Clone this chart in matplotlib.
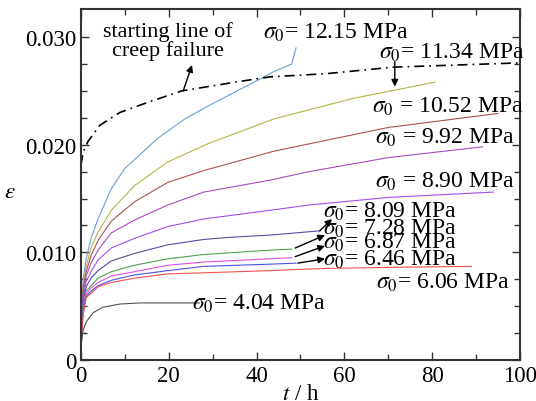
import matplotlib
matplotlib.use('Agg')
import matplotlib.pyplot as plt

plt.rcParams['font.family'] = ['Liberation Serif', 'DejaVu Serif']
plt.rcParams['mathtext.fontset'] = 'stix'

# Creep curves (t in h, strain)
t_1215 = [0, 0.5, 1.2, 2.3, 3.9, 6.9, 10, 12.2, 17.5, 23.7, 29, 40.8, 44, 48, 49]
e_1215 = [0.0025, 0.0075, 0.0094, 0.0113, 0.0131, 0.0159, 0.0178, 0.0186, 0.0206, 0.0224,
          0.0236, 0.0261, 0.0268, 0.0275, 0.0290]

t_1134 = [0, 0.5, 1.2, 2.3, 3.9, 6.9, 12.2, 19.8, 29, 44, 62, 80.6]
e_1134 = [0.0024, 0.0070, 0.0087, 0.0104, 0.0119, 0.0139, 0.0162, 0.0184, 0.0201, 0.0224,
          0.0243, 0.0258]

t_1052 = [0, 0.5, 1.2, 2.3, 3.9, 6.9, 12.2, 19.8, 28, 44, 70, 95]
e_1052 = [0.0023, 0.0066, 0.0082, 0.0097, 0.0111, 0.0129, 0.0147, 0.0165, 0.0176, 0.0194,
          0.0216, 0.0229]

t_992 = [0, 0.5, 1.2, 2.3, 3.9, 6.9, 12.2, 19.8, 28, 43, 52, 70, 91.5]
e_992 = [0.0022, 0.0062, 0.0078, 0.0090, 0.0102, 0.0118, 0.0130, 0.0144, 0.0156, 0.0167,
         0.0175, 0.0188, 0.0198]

t_890 = [0, 0.5, 1.2, 2.3, 3.9, 6.9, 12.2, 19.8, 28, 43, 52, 70, 94]
e_890 = [0.0021, 0.0058, 0.0073, 0.0082, 0.0093, 0.0104, 0.0113, 0.0124, 0.0131, 0.0139,
         0.0144, 0.0151, 0.0156]

t_809 = [0, 0.5, 1.2, 2.3, 3.9, 6.9, 12.2, 19.8, 28, 34, 43, 54.5]
e_809 = [0.0020, 0.0055, 0.0068, 0.0076, 0.0083, 0.0092, 0.0099, 0.0107, 0.0112, 0.0114,
         0.0116, 0.0120]

t_728 = [0, 0.5, 1.2, 2.3, 3.9, 6.9, 12.2, 19.8, 28, 43, 48]
e_728 = [0.0019, 0.0050, 0.0064, 0.0069, 0.0076, 0.0082, 0.0088, 0.0094, 0.0098, 0.0102, 0.0103]

t_687 = [0, 0.5, 1.2, 2.3, 3.9, 6.9, 12.2, 19.8, 28, 43, 48]
e_687 = [0.0018, 0.0047, 0.0061, 0.0067, 0.0072, 0.0078, 0.0082, 0.0088, 0.0091, 0.0094, 0.0095]

t_646 = [0, 0.5, 1.2, 2.3, 3.9, 6.9, 12.2, 19.8, 28, 43, 49]
e_646 = [0.0017, 0.0045, 0.0059, 0.0064, 0.0069, 0.0074, 0.0079, 0.0083, 0.0087, 0.0089, 0.0090]

t_606 = [0, 0.5, 1.2, 2.3, 3.9, 6.9, 12.2, 19.8, 28, 43, 55, 70, 89]
e_606 = [0.0016, 0.0042, 0.0058, 0.0062, 0.0068, 0.0072, 0.0076, 0.0080, 0.0081, 0.0083,
         0.0085, 0.0086, 0.0087]

t_404 = [0, 0.5, 1.3, 2.8, 5, 8.9, 13.4, 27]
e_404 = [0.0012, 0.0028, 0.0036, 0.0044, 0.0049, 0.0052, 0.0053, 0.0053]

# Starting line of creep failure
t_fail = [0, 0.5, 1.6, 4.3, 8.9, 15.7, 23, 35, 43, 56, 71, 100]
e_fail = [0.0181, 0.0193, 0.0203, 0.0218, 0.0230, 0.0240, 0.0250, 0.0258, 0.0263, 0.0266,
          0.0272, 0.0276]

curves = [
    (t_1215, e_1215, '#6a9fd4'),
    (t_1134, e_1134, '#b5b545'),
    (t_1052, e_1052, '#b05050'),
    (t_992, e_992, '#a64dbf'),
    (t_890, e_890, '#a050f0'),
    (t_809, e_809, '#5050a0'),
    (t_728, e_728, '#50a050'),
    (t_687, e_687, '#e050e0'),
    (t_646, e_646, '#5050e0'),
    (t_606, e_606, '#f05050'),
    (t_404, e_404, '#505050'),
]

# Labels: text, x, y
labels = [
    (r'$\sigma_0$= 12.15 MPa', 58.1, 0.0305),
    (r'$\sigma_0$= 11.34 MPa', 84.5, 0.0286),
    (r'$\sigma_0$ = 10.52 MPa', 83.6, 0.0236),
    (r'$\sigma_0$ = 9.92 MPa', 82.9, 0.0207),
    (r'$\sigma_0$ = 8.90 MPa', 82.9, 0.0166),
    (r'$\sigma_0$= 8.09 MPa', 70.4, 0.0139),
    (r'$\sigma_0$= 7.28 MPa', 70.4, 0.0123),
    (r'$\sigma_0$= 6.87 MPa', 70.4, 0.0110),
    (r'$\sigma_0$= 6.46 MPa', 70.4, 0.0094),
    (r'$\sigma_0$= 6.06 MPa', 82.5, 0.0073),
    (r'$\sigma_0$= 4.04 MPa', 40.5, 0.0053),
]

# Arrows: tail -> head
arrows = [
    ((54.4, 0.0120), (57.2, 0.0131)),
    ((48.8, 0.0104), (55.6, 0.0116)),
    ((48.8, 0.0096), (55.6, 0.0106)),
    ((49.4, 0.0090), (55.6, 0.0094)),
    ((71.5, 0.0277), (71.5, 0.0254)),
    ((23.3, 0.0250), (25.3, 0.0274)),
]

fig, ax = plt.subplots(figsize=(5.36, 4.02), dpi=100)
fig.subplots_adjust(left=0.151, right=0.970, bottom=0.102, top=0.975)

for t, e, c in curves:
    ax.plot(t, e, color=c, lw=0.8)

ax.plot(t_fail, e_fail, color='black', lw=1.2, linestyle=(0, (6, 3, 1, 3)))

for txt, x, y in labels:
    ax.text(x, y, txt, fontsize=17, ha='center', va='center')

ax.text(19.8, 0.0297, 'starting line of\ncreep failure', fontsize=16,
        ha='center', va='center', linespacing=0.95)

for tail, head in arrows:
    ax.annotate('', xy=head, xytext=tail,
                arrowprops=dict(arrowstyle='-|>', color='black', lw=1,
                                mutation_scale=10, shrinkA=0, shrinkB=0))

ax.set_xlim(0, 100)
ax.set_ylim(0, 0.0326)
ax.set_xticks([0, 20, 40, 60, 80, 100])
ax.set_xticks(range(10, 100, 20), minor=True)
ax.set_yticks([0, 0.010, 0.020, 0.030])
ax.set_yticklabels(['0', '0.010', '0.020', '0.030'])
ax.set_yticks([0.0025 * i for i in range(1, 13) if i % 4 != 0], minor=True)

ax.tick_params(which='both', direction='in', top=True, right=True,
               labelsize=16.5, width=1, color='#333333')
ax.tick_params(which='major', length=6)
ax.tick_params(which='minor', length=4)
for s in ax.spines.values():
    s.set_linewidth(1.5)
    s.set_color('#333333')

ax.set_xlabel(r'$t$ / h', fontsize=16.5, labelpad=-2)
ax.set_ylabel(r'$\varepsilon$', fontsize=16.5, rotation=0, va='center')
ax.yaxis.set_label_coords(-0.162, 0.479)

plt.savefig('out.png')
